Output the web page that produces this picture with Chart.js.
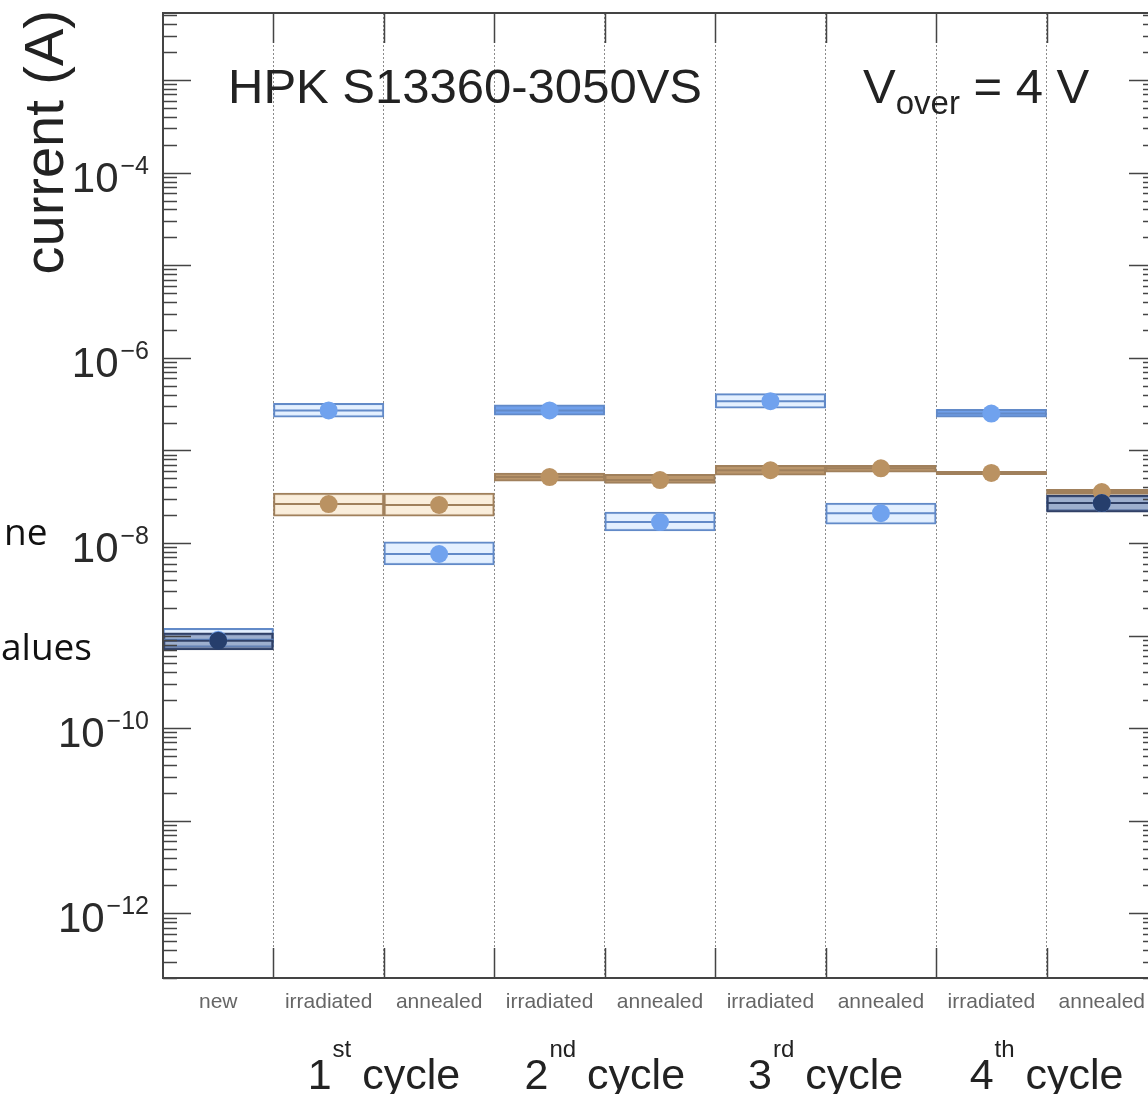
<!DOCTYPE html>
<html>
  <head>
    <title>HPK S13360-3050VS dark current</title>
    <style>
      html, body { margin: 0; padding: 0; background: #fff; overflow: hidden; }
      #wrap { width: 1148px; height: 1094px; overflow: hidden; }
    </style>
  </head>
  <body>
    <div id="wrap"><canvas id="chart" width="1167" height="1094"></canvas></div>

    <script src="https://cdn.jsdelivr.net/npm/chart.js"></script>
    <script>
      const categories = ["new", "irradiated", "annealed", "irradiated", "annealed", "irradiated", "annealed", "irradiated", "annealed"];
      const cycleNames = [["1", "st"], ["2", "nd"], ["3", "rd"], ["4", "th"]];
      const decadeLabels = [-12, -10, -8, -6, -4];

      // light blue sensor
      const blueValue = [9.0e-10, 2.7e-7, 7.6e-9, 2.7e-7, 1.68e-8, 3.4e-7, 2.1e-8, 2.5e-7, 2.7e-8];
      const blueLow   = [7.5e-10, 2.29e-7, 5.8e-9, 2.4e-7, 1.35e-8, 2.85e-7, 1.6e-8, 2.28e-7, 2.2e-8];
      const blueHigh  = [1.2e-9, 3.23e-7, 1.03e-8, 3.1e-7, 2.16e-8, 4.1e-7, 2.7e-8, 2.78e-7, 3.3e-8];

      // brown sensor
      const brownValue = [null, 2.63e-8, 2.57e-8, 5.15e-8, 4.78e-8, 6.1e-8, 6.4e-8, 5.7e-8, 3.55e-8];
      const brownLow   = [null, 1.95e-8, 1.95e-8, 4.65e-8, 4.4e-8, 5.4e-8, 5.8e-8, 5.45e-8, 3.35e-8];
      const brownHigh  = [null, 3.46e-8, 3.46e-8, 5.7e-8, 5.5e-8, 6.9e-8, 6.9e-8, 5.95e-8, 3.8e-8];

      // dark (new / last anneal)
      const darkValue = [8.8e-10, null, null, null, null, null, null, null, 2.7e-8];
      const darkLow   = [7.0e-10, null, null, null, null, null, null, null, 2.15e-8];
      const darkHigh  = [1.07e-9, null, null, null, null, null, null, null, 3.3e-8];

      const FONT = "'Liberation Sans', Arial, Helvetica, sans-serif";

      function boxes(lo, hi) {
        return lo.map((v, i) => (v == null ? null : [v, hi[i]]));
      }

      // thin boxes are drawn as solid bands
      function boxFill(lo, hi, light, solid) {
        return (c) => {
          const i = c.dataIndex;
          if (lo[i] == null) return light;
          return hi[i] / lo[i] < 1.3 ? solid : light;
        };
      }

      // half a bin wide; 0 before the first layout so it doesn't pad the chart area
      const halfBin = (c) => (c.chart.chartArea ? c.chart.chartArea.width / categories.length / 2 : 0);

      const frame = {
        id: "frame",
        afterDraw(chart) {
          const { ctx, chartArea: a, scales } = chart;
          const y = scales.y;
          const x = scales.x;
          ctx.save();
          ctx.strokeStyle = "#444";
          ctx.lineWidth = 1.5;

          // log ticks, inward on both sides
          ctx.beginPath();
          for (let e = -13; e <= -2; e++) {
            for (let m = 1; m <= 9; m++) {
              const v = m * Math.pow(10, e);
              if (v < y.min || v > y.max) continue;
              const py = Math.round(y.getPixelForValue(v)) + 0.5;
              const len = m === 1 ? 28 : 14;
              ctx.moveTo(a.left, py); ctx.lineTo(a.left + len, py);
              ctx.moveTo(a.right, py); ctx.lineTo(a.right - len, py);
            }
          }
          // bin edge ticks on top and bottom
          const bw = a.width / categories.length;
          for (let i = 1; i < categories.length; i++) {
            const px = Math.round(a.left + i * bw) + 0.5;
            ctx.moveTo(px, a.top); ctx.lineTo(px, a.top + 30);
            ctx.moveTo(px, a.bottom); ctx.lineTo(px, a.bottom - 30);
          }
          ctx.stroke();

          // frame
          ctx.lineWidth = 2;
          ctx.strokeRect(a.left, a.top, a.width, a.height);

          // decade labels
          ctx.fillStyle = "#2a2a2a";
          ctx.textBaseline = "alphabetic";
          decadeLabels.forEach((e) => {
            const py = y.getPixelForValue(Math.pow(10, e));
            const exp = "\u2212" + String(-e);
            ctx.font = "25px " + FONT;
            ctx.textAlign = "right";
            const ew = ctx.measureText(exp).width;
            ctx.fillText(exp, 149, py + 1);
            ctx.font = "42px " + FONT;
            ctx.fillText("10", 149 - ew - 2, py + 19);
          });

          // axis title
          ctx.save();
          ctx.translate(63, 10);
          ctx.rotate(-Math.PI / 2);
          ctx.font = "56px " + FONT;
          ctx.textAlign = "right";
          ctx.fillStyle = "#222";
          ctx.fillText("current (A)", 0, 0);
          ctx.restore();

          // annotations
          ctx.fillStyle = "#222";
          ctx.textAlign = "left";
          ctx.font = "49px " + FONT;
          ctx.fillText("HPK S13360-3050VS", 228, 103);
          let tx = 863;
          ctx.fillText("V", tx, 103);
          tx += ctx.measureText("V").width;
          ctx.font = "33px " + FONT;
          ctx.fillText("over", tx, 114);
          tx += ctx.measureText("over").width;
          ctx.font = "49px " + FONT;
          ctx.fillText(" = 4 V", tx, 103);

          // cycle labels, centred between irradiated and annealed bins
          cycleNames.forEach((c, k) => {
            const cx = x.getPixelForValue(1 + 2 * k) + bw / 2;
            ctx.font = "43px " + FONT;
            const w1 = ctx.measureText(c[0]).width;
            const w3 = ctx.measureText(" cycle").width;
            ctx.font = "24px " + FONT;
            const w2 = ctx.measureText(c[1]).width;
            const sx = cx - (w1 + w2 + w3) / 2;
            ctx.font = "43px " + FONT;
            ctx.fillText(c[0], sx, 1089);
            ctx.font = "24px " + FONT;
            ctx.fillText(c[1], sx + w1 + 1, 1057);
            ctx.font = "43px " + FONT;
            ctx.fillText(" cycle", sx + w1 + w2, 1089);
          });

          // leftover slide text on the left edge
          ctx.fillStyle = "#111";
          ctx.font = "37px 'Open Sans', sans-serif";
          ctx.fillText("ne", 4, 545);
          ctx.fillText("alues", 1, 660);
          ctx.restore();
        },
      };

      const BLUE = { pt: "rgb(112,162,238)", line: "rgb(98,138,200)", light: "rgba(225,238,255,0.9)", solid: "rgb(112,160,235)" };
      const BROWN = { pt: "rgb(186,146,98)", line: "rgb(160,128,92)", light: "rgba(250,236,216,0.9)", solid: "rgb(186,150,108)" };
      const DARK = { pt: "rgb(38,62,108)", line: "rgb(48,64,102)", light: "rgba(100,122,165,0.55)", solid: "rgb(60,80,120)" };

      function boxSet(lo, hi, col, order) {
        return {
          type: "bar",
          data: boxes(lo, hi),
          backgroundColor: boxFill(lo, hi, col.light, col.solid),
          borderColor: col.line,
          borderWidth: 2,
          borderSkipped: false,
          grouped: false,
          barPercentage: 1,
          categoryPercentage: 1,
          order: order,
        };
      }
      function midSet(vals, col, order) {
        return {
          type: "line",
          data: vals,
          showLine: false,
          pointStyle: "line",
          pointRadius: halfBin,
          pointBorderColor: col.line,
          pointBorderWidth: 2,
          order: order,
        };
      }
      function dotSet(vals, col, order) {
        return {
          type: "line",
          data: vals,
          showLine: false,
          pointStyle: "circle",
          pointRadius: 9,
          pointBackgroundColor: col.pt,
          pointBorderWidth: 0,
          order: order,
        };
      }

      new Chart(document.getElementById("chart"), {
        type: "bar",
        data: {
          labels: categories,
          datasets: [
            dotSet(darkValue, DARK, 0),
            dotSet(blueValue, BLUE, 1),
            dotSet(brownValue, BROWN, 2),
            midSet(darkValue, DARK, 3),
            midSet(blueValue, BLUE, 4),
            midSet(brownValue, BROWN, 5),
            boxSet(darkLow, darkHigh, DARK, 6),
            boxSet(blueLow, blueHigh, BLUE, 7),
            boxSet(brownLow, brownHigh, BROWN, 8),
          ],
        },
        options: {
          responsive: false,
          animation: false,
          events: [],
          layout: { padding: { left: 0, top: 13, right: 10, bottom: 0 } },
          plugins: { legend: { display: false }, tooltip: { enabled: false } },
          scales: {
            x: {
              offset: true,
              grid: { offset: true, drawTicks: false, color: "rgba(110,110,110,0.8)", lineWidth: 1 },
              border: { display: false, dash: [2, 2] },
              ticks: { font: { family: FONT, size: 21 }, color: "#666", padding: 12, maxRotation: 0, autoSkip: false },
              afterFit(s) { s.height = 116; },
            },
            y: {
              type: "logarithmic",
              min: 2e-13,
              max: 5.3e-3,
              ticks: { display: false },
              grid: { display: false },
              border: { display: false },
              afterFit(s) { s.width = 163; },
            },
          },
        },
        plugins: [frame],
      });
    </script>
  </body>
</html>
